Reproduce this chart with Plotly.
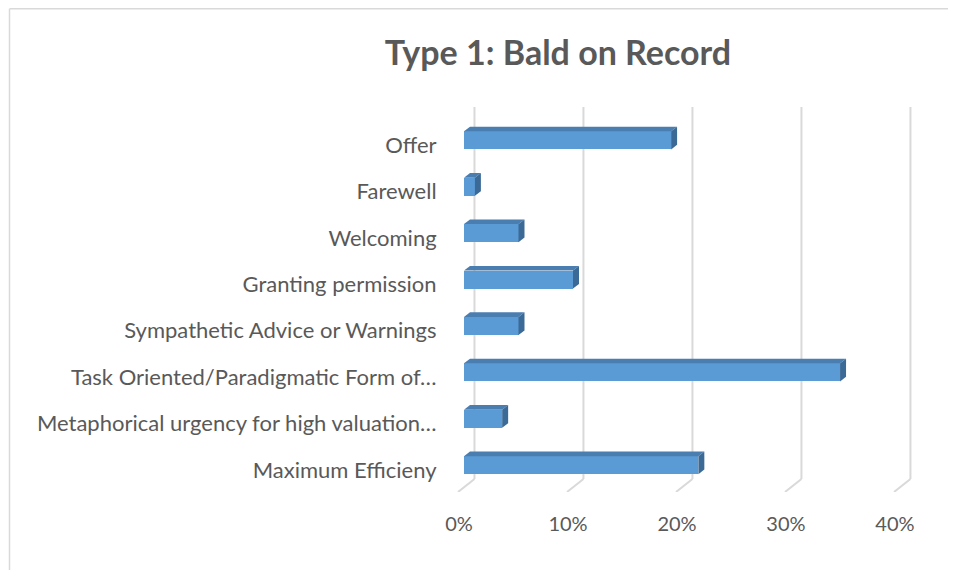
import plotly.graph_objects as go

categories = ["Offer", "Farewell", "Welcoming", "Granting permission",
              "Sympathetic Advice or Warnings",
              "Task Oriented/Paradigmatic Form of…",
              "Metaphorical urgency for high valuation…",
              "Maximum Efficieny"]
values = [19, 1, 5, 10, 5, 34.5, 3.5, 21.5]
tick_vals = [0, 10, 20, 30, 40]
tick_text = ["0%", "10%", "20%", "30%", "40%"]
title = "Type 1: Bald on Record"

FRONT = "#5B9BD5"
TOP = "#4A7DB0"
SIDE = "#3C6A96"
GRID = "#D9D9D9"
TXT = "#595959"
FONT = "Lato"

# 3D offsets (style constants, in axis units)
DX = 0.55      # depth offset along x
DY = 0.10      # depth offset along y
BW = 0.39      # bar thickness
YSHIFT = -0.1  # bar centre relative to label
BACK = 0.96    # back-wall offset of gridlines
FRONT_FLOOR = -0.55
Y_BACK_TOP = -0.82
Y_BACK_BOT = 7.198
Y_FRONT_BOT = 7.478

# figure size (page body adds an 8px margin all round)
W, H = 940, 562
ML, MR, MT, MB = 436, 8, 97, 78
pw = W - ML - MR
ph = H - MT - MB

fig = go.Figure()

shapes = []
# gridlines on back wall + floor diagonals (below the bars)
for v in tick_vals:
    shapes.append(dict(type="line", xref="x", yref="y", layer="below",
                       x0=v + BACK, x1=v + BACK, y0=Y_BACK_TOP, y1=Y_BACK_BOT,
                       line=dict(color=GRID, width=2)))
    shapes.append(dict(type="line", xref="x", yref="y", layer="below",
                       x0=v + BACK, x1=v + FRONT_FLOOR,
                       y0=Y_BACK_BOT, y1=Y_FRONT_BOT,
                       line=dict(color=GRID, width=2)))

# chart border (left and top edges visible)
shapes.append(dict(type="line", xref="paper", yref="paper", layer="below",
                   x0=(1.5 - ML) / pw, x1=(1.5 - ML) / pw,
                   y0=-(MB + 20) / ph, y1=1 + (MT - 0.75) / ph,
                   line=dict(color=GRID, width=1.5)))
shapes.append(dict(type="line", xref="paper", yref="paper", layer="below",
                   x0=(1.5 - ML) / pw, x1=1 + (MR + 20) / pw,
                   y0=1 + (MT - 0.75) / ph, y1=1 + (MT - 0.75) / ph,
                   line=dict(color=GRID, width=1.5)))

ys = [i + YSHIFT for i in range(len(categories))]

# front faces
fig.add_trace(go.Bar(
    y=ys, x=values, orientation="h", width=BW,
    marker=dict(color=FRONT, line=dict(width=0)),
    showlegend=False, hovertext=categories, hoverinfo="text+x"))

# top and side faces
for v, yc in zip(values, ys):
    top = yc - BW / 2
    bot = yc + BW / 2
    fig.add_trace(go.Scatter(
        x=[0, v, v + DX, DX, 0], y=[top, top, top - DY, top - DY, top],
        fill="toself", fillcolor=TOP, mode="lines",
        line=dict(width=0, color=TOP), hoverinfo="skip", showlegend=False))
    fig.add_trace(go.Scatter(
        x=[v, v + DX, v + DX, v, v], y=[top, top - DY, bot - DY, bot, top],
        fill="toself", fillcolor=SIDE, mode="lines",
        line=dict(width=0, color=SIDE), hoverinfo="skip", showlegend=False))

fig.update_layout(
    width=W, height=H,
    margin=dict(l=ML, r=MR, t=MT, b=MB, pad=0),
    paper_bgcolor="white", plot_bgcolor="white",
    font=dict(family=FONT, color=TXT, size=22),
    title=dict(text="<b>" + title + "</b>", x=550 / W, xanchor="center",
               y=1 - 45 / H, yanchor="middle",
               font=dict(size=34, color=TXT, family=FONT)),
    xaxis=dict(range=[-1.835, 43.67], showgrid=False, zeroline=False,
               showline=False, tickmode="array",
               tickvals=[v - 0.46 for v in tick_vals], ticktext=tick_text,
               ticks="outside", ticklen=14, tickcolor="rgba(0,0,0,0)",
               tickfont=dict(size=20, color=TXT)),
    yaxis=dict(range=[7.478, -0.862], showgrid=False, zeroline=False,
               showline=False, tickmode="array",
               tickvals=list(range(len(categories))), ticktext=categories,
               ticks="outside", ticklen=2, tickcolor="rgba(0,0,0,0)",
               tickfont=dict(size=22, color=TXT)),
    shapes=shapes,
    bargap=0,
)

fig.write_html("out.html")
